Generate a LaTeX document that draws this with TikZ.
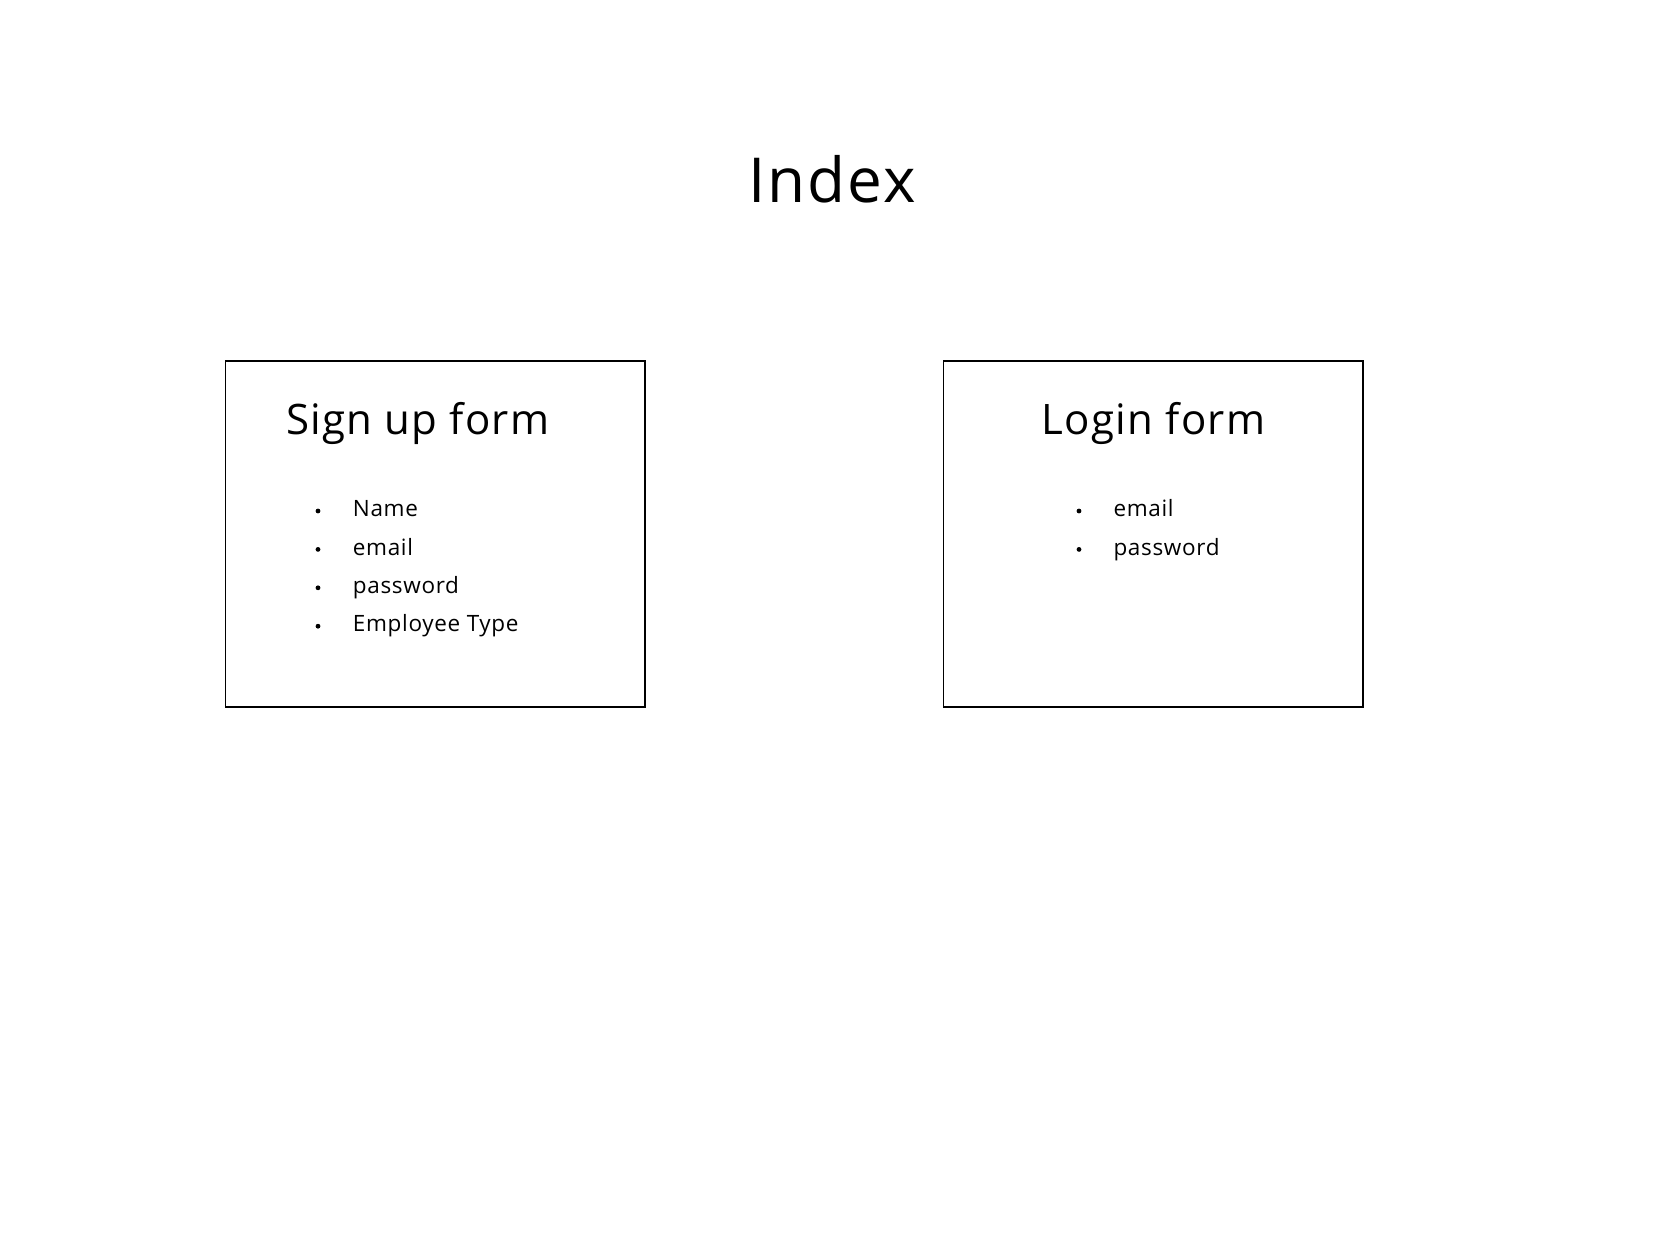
\documentclass[tikz,border=0pt]{standalone}
\usepackage{fontspec}
\setmainfont{Open Sans}[LetterSpace=3]
\begin{document}
\begin{tikzpicture}[x=1pt,y=-1pt,
  formbox/.style={draw=black, line width=1.6pt, inner sep=0pt},
  heading/.style={anchor=base west, inner sep=0pt, font=\fontsize{42}{50}\selectfont},
  item/.style={anchor=base west, inner sep=0pt, font=\fontsize{22.5}{27}\selectfont},
  dot/.style={circle, fill=black, inner sep=0pt, minimum size=4.8pt}
]
\useasboundingbox (0,0) rectangle (1667,1250);

% page title
\node[anchor=base west, inner sep=0pt, font=\fontsize{62}{74}\selectfont] (title) at (748.5,202) {Index};

% the two form boxes
\node[formbox, minimum width=419.7pt, minimum height=346pt] (signup) at (435.2,534.2) {};
\node[formbox, minimum width=419.4pt, minimum height=346pt] (login) at (1153,534.2) {};

% sign up form
\node[heading] (signuphead) at (286,434) {Sign up form};
\foreach \t [count=\i] in {Name, email, password, Employee Type} {
  \node[dot] (sb\i) at (318,{516.7+38.4*(\i-1)-5.7}) {};
  \node[item] (si\i) at (352.7,{516.7+38.4*(\i-1)}) {\t};
}

% login form
\node[heading] (loginhead) at (1041.7,434) {Login form};
\foreach \t [count=\i] in {email, password} {
  \node[dot] (lb\i) at (1079,{516.7+38.4*(\i-1)-5.7}) {};
  \node[item] (li\i) at (1113.3,{516.7+38.4*(\i-1)}) {\t};
}
\end{tikzpicture}
\end{document}
